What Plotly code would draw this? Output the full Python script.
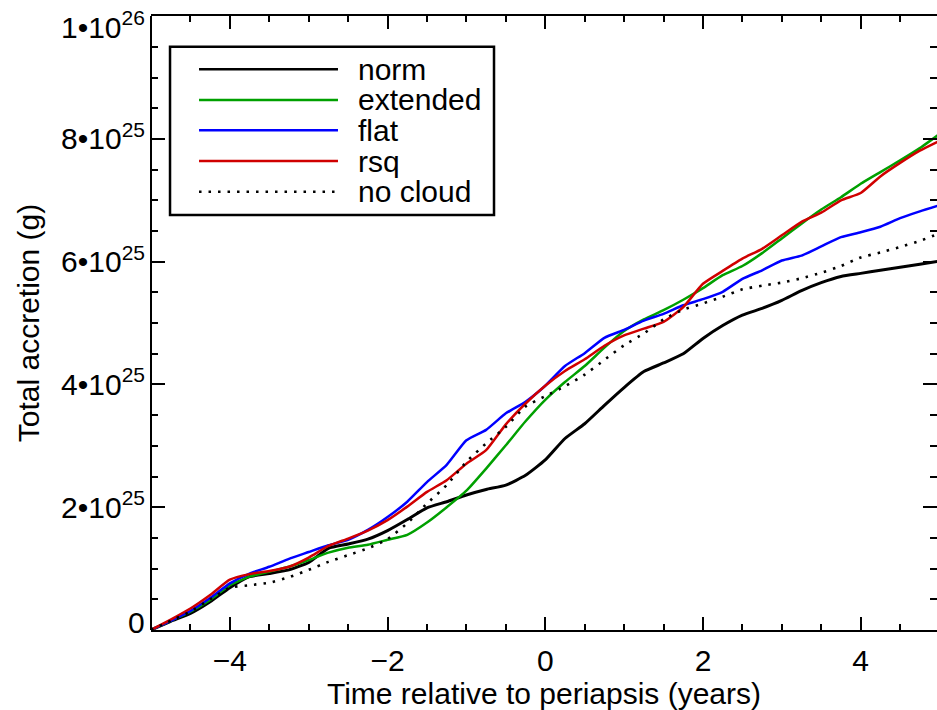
import plotly.graph_objects as go

# Time relative to periapsis (years)
t = [-5, -4.75, -4.5, -4.25, -4, -3.75, -3.5, -3.25, -3, -2.75, -2.5, -2.25, -2, -1.75,
     -1.5, -1.25, -1, -0.75, -0.5, -0.25, 0, 0.25, 0.5, 0.75, 1, 1.25, 1.5, 1.75, 2, 2.25,
     2.5, 2.75, 3, 3.25, 3.5, 3.75, 4, 4.25, 4.5, 4.75, 5]

# Total accretion, in units of 1e25 g
norm = [0, 0.14, 0.27, 0.46, 0.69, 0.87, 0.92, 0.98, 1.10, 1.33, 1.40, 1.48, 1.62, 1.80,
        1.99, 2.09, 2.20, 2.29, 2.36, 2.52, 2.77, 3.12, 3.36, 3.66, 3.95, 4.21, 4.35, 4.50, 4.75, 4.96,
        5.13, 5.24, 5.37, 5.53, 5.66, 5.76, 5.81, 5.86, 5.91, 5.96, 6.01]
extended = [0, 0.15, 0.30, 0.49, 0.73, 0.87, 0.95, 1.03, 1.14, 1.26, 1.34, 1.39, 1.47, 1.55,
            1.75, 2.00, 2.27, 2.63, 3.01, 3.40, 3.75, 4.04, 4.30, 4.60, 4.87, 5.06, 5.21, 5.38, 5.57, 5.78,
            5.93, 6.14, 6.38, 6.62, 6.85, 7.05, 7.27, 7.46, 7.65, 7.85, 8.08]
flat = [0, 0.15, 0.31, 0.52, 0.76, 0.92, 1.03, 1.16, 1.27, 1.38, 1.47, 1.63, 1.84, 2.09,
        2.41, 2.69, 3.09, 3.26, 3.53, 3.72, 3.98, 4.30, 4.51, 4.76, 4.89, 5.04, 5.15, 5.29, 5.39, 5.51,
        5.72, 5.86, 6.02, 6.10, 6.25, 6.40, 6.48, 6.57, 6.71, 6.82, 6.92]
rsq = [0, 0.17, 0.35, 0.57, 0.82, 0.91, 0.96, 1.03, 1.18, 1.37, 1.49, 1.62, 1.79, 2.01,
       2.25, 2.44, 2.71, 2.93, 3.35, 3.69, 3.98, 4.22, 4.41, 4.63, 4.80, 4.91, 5.02, 5.26, 5.64, 5.85,
       6.05, 6.21, 6.43, 6.65, 6.80, 7.00, 7.12, 7.39, 7.61, 7.81, 7.97]
no_cloud = [0, 0.15, 0.30, 0.50, 0.69, 0.73, 0.77, 0.86, 0.98, 1.11, 1.22, 1.33, 1.48, 1.74,
            2.06, 2.36, 2.74, 3.04, 3.31, 3.64, 3.81, 3.97, 4.16, 4.40, 4.64, 4.83, 5.06, 5.22, 5.32, 5.43,
            5.55, 5.61, 5.66, 5.73, 5.82, 5.93, 6.07, 6.15, 6.24, 6.34, 6.46]

names = ["norm", "extended", "flat", "rsq", "no cloud"]
series = [norm, extended, flat, rsq, no_cloud]
colors = ["#000000", "#00A000", "#0000FF", "#D00000", "#000000"]
widths = [3, 2.5, 2.5, 2.5, 2.6]
dashes = ["solid", "solid", "solid", "solid", "2.5px,7px"]

x_ticks = [-4, -2, 0, 2, 4]
x_ticktext = ["\u22124", "\u22122", "0", "2", "4"]
y_ticks = [0, 2e25, 4e25, 6e25, 8e25, 1e26]
y_ticktext = ["0", "2\u202210<sup>25</sup>", "4\u202210<sup>25</sup>", "6\u202210<sup>25</sup>",
              "8\u202210<sup>25</sup>", "1\u202210<sup>26</sup>"]

FONT = "Liberation Sans, Arial, Helvetica, sans-serif"
FS = 30

fig = go.Figure()
for name, vals, c, w, d in zip(names, series, colors, widths, dashes):
    fig.add_trace(go.Scatter(
        x=t, y=[v * 1e25 for v in vals], mode="lines", name=name,
        line=dict(color=c, width=w, dash=d, shape="spline", smoothing=0.5),
        showlegend=False))

# Custom legend box (long sample lines as in the original)
lx0, lx1, ltx = 0.0611, 0.2379, 0.2605
row_y = [0.9132, 0.8632, 0.8138, 0.7638, 0.7138]
shapes = [dict(type="rect", xref="paper", yref="paper", x0=0.0242, x1=0.4364, y0=0.6759, y1=0.950,
               line=dict(color="black", width=2.5), fillcolor="white", layer="above")]
annotations = []
for name, c, w, d, yy in zip(names, colors, widths, dashes, row_y):
    shapes.append(dict(type="line", xref="paper", yref="paper", x0=lx0, x1=lx1, y0=yy, y1=yy,
                       line=dict(color=c, width=min(w, 2.5), dash=d), layer="above"))
    annotations.append(dict(xref="paper", yref="paper", x=ltx, y=yy, text=name, showarrow=False,
                            xanchor="left", yanchor="middle", font=dict(size=FS, color="black", family=FONT)))
# left frame line (right side has ticks only, its line is off-window)
shapes.append(dict(type="line", xref="paper", yref="paper", x0=0, x1=0, y0=0, y1=1,
                   line=dict(color="black", width=2), layer="above"))

# End labels of the y axis are nudged inward (as in the original); drawn as
# annotations at the tick values, the tick labels themselves left blank there.
end_shift = {0: 8, len(y_ticks) - 1: -9}
axis_ticktext = list(y_ticktext)
for i, sh in end_shift.items():
    annotations.append(dict(xref="paper", yref="y", x=0, y=y_ticks[i], text=y_ticktext[i],
                            showarrow=False, xanchor="right", yanchor="middle", xshift=-4, yshift=sh,
                            font=dict(size=FS, color="black", family=FONT)))
    axis_ticktext[i] = " "

fig.update_layout(
    width=937, height=710,
    margin=dict(l=151, r=0, t=16, b=80, autoexpand=False),
    paper_bgcolor="white", plot_bgcolor="white",
    font=dict(family=FONT, size=FS, color="black"),
    shapes=shapes, annotations=annotations,
    showlegend=False,
)
fig.update_xaxes(
    range=[-5, 4.968], tickmode="array", tickvals=x_ticks, ticktext=x_ticktext,
    ticks="inside", ticklen=13, tickwidth=1.5, tickcolor="black",
    showline=True, linewidth=2, linecolor="black", mirror="ticks",
    showgrid=False, zeroline=False, ticklabelstandoff=3, automargin=False,
    tickfont=dict(size=FS),
    minor=dict(tick0=0, dtick=0.5, ticks="inside", ticklen=6, tickwidth=1.5, tickcolor="black", showgrid=False),
    title=dict(text="Time relative to periapsis (years)", font=dict(size=FS), standoff=2),
)
fig.update_yaxes(
    range=[0, 1.0003e26], tickmode="array", tickvals=y_ticks, ticktext=axis_ticktext,
    ticks="inside", ticklen=14, tickwidth=1.5, tickcolor="black",
    showline=False, mirror="ticks",
    showgrid=False, zeroline=False, ticklabelstandoff=5, automargin=False,
    ticklabeloverflow="allow",
    tickfont=dict(size=FS),
    minor=dict(tick0=0, dtick=5e24, ticks="inside", ticklen=7, tickwidth=1.5, tickcolor="black", showgrid=False),
    title=dict(text="Total accretion (g)", font=dict(size=FS), standoff=12),
)

fig.write_html("out.html")
